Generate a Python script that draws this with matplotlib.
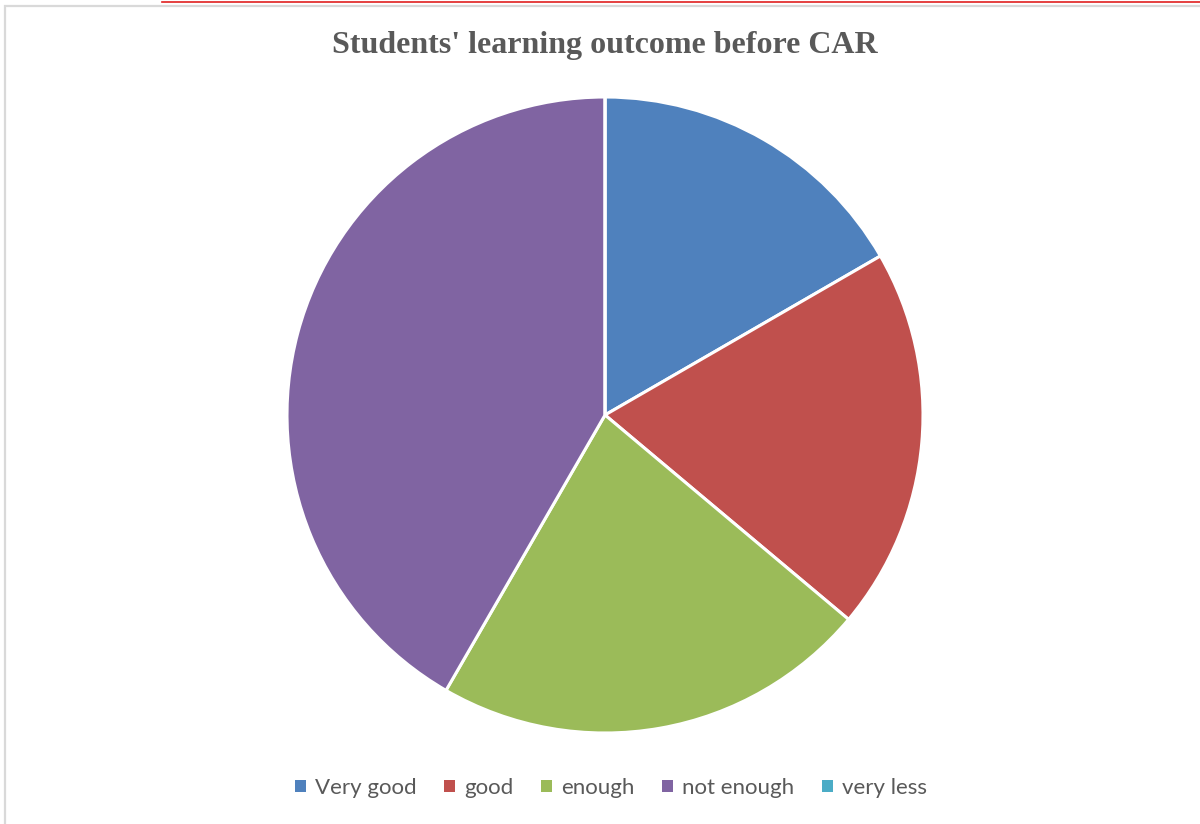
import matplotlib.pyplot as plt
from matplotlib.lines import Line2D
from matplotlib.patches import Rectangle

labels = ["Very good", "good", "enough", "not enough", "very less"]
values = [6, 7, 8, 15, 0]
colors = ["#4f81bd", "#c0504d", "#9bbb59", "#8064a2", "#4bacc6"]

W, H = 1200, 824
fig = plt.figure(figsize=(W / 100, H / 100), dpi=100)

# chart frame and red rule at the top
fig.patches.append(Rectangle((4.5 / W, -0.1), 1.2, 1 - 5.5 / H + 0.1,
                             transform=fig.transFigure, fill=False,
                             edgecolor="#d9d9d9", linewidth=1.6))
fig.lines.append(Line2D([162 / W, 1.0], [1 - 2 / H, 1 - 2 / H],
                        transform=fig.transFigure, color="#e02020", linewidth=1.2))

cx, cy, r = 605, 415, 318
ax = fig.add_axes([(cx - r) / W, (H - cy - r) / H, 2 * r / W, 2 * r / H])
ax.pie(values, colors=colors, startangle=90, counterclock=False,
       wedgeprops=dict(edgecolor="white", linewidth=2.2))
ax.set_xlim(-1, 1)
ax.set_ylim(-1, 1)
ax.set_aspect("equal")
ax.axis("off")

fig.text(605 / W, 1 - 45 / H, "Students' learning outcome before CAR",
         ha="center", va="center", fontsize=23, fontweight="bold",
         family="Liberation Serif", color="#595959")

handles = [Rectangle((0, 0), 1, 1, facecolor=c, edgecolor="none") for c in colors]
fig.legend(handles, labels, loc="center", bbox_to_anchor=(611 / W, 1 - 788 / H),
           ncol=5, frameon=False, handlelength=0.5, handleheight=0.5,
           handletextpad=0.4, columnspacing=1.25,
           prop=dict(family="Lato", size=16), labelcolor="#595959")

fig.savefig("out.png", dpi=100)
